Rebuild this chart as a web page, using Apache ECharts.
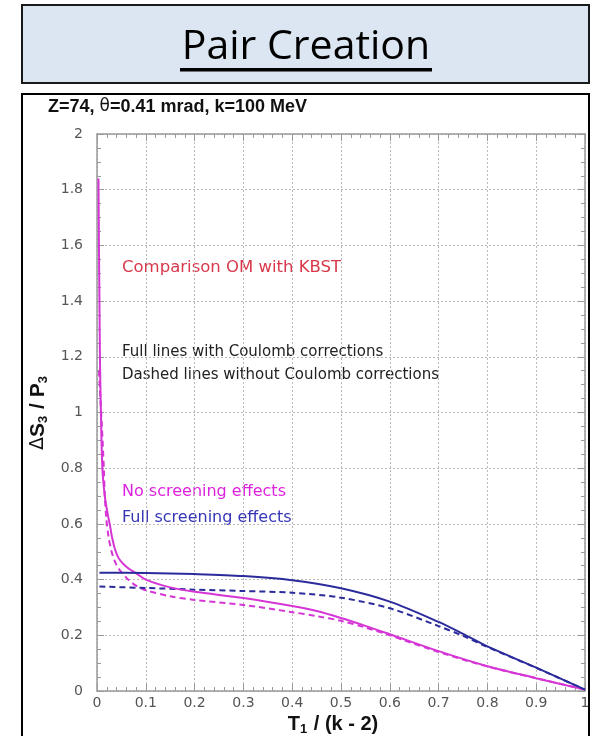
<!DOCTYPE html>
<html>
<head>
<meta charset="utf-8">
<script src="https://cdn.jsdelivr.net/npm/echarts@6/dist/echarts.min.js"></script>
<style>
  html, body { margin: 0; padding: 0; background: #fff; }
  #chart { width: 592px; height: 736px; }
</style>
</head>
<body>
<div id="chart"></div>
<script>
// Axis ranges and tick labels
const xTicks = ['0', '0.1', '0.2', '0.3', '0.4', '0.5', '0.6', '0.7', '0.8', '0.9', '1'];
const yTicks = ['0', '0.2', '0.4', '0.6', '0.8', '1', '1.2', '1.4', '1.6', '1.8', '2'];

// No screening, with Coulomb corrections (solid magenta)
const noScreenCoulomb = [
  [0.003, 1.84], [0.004, 1.6], [0.005, 1.4], [0.006, 1.2], [0.008, 1.0],
  [0.011, 0.80], [0.016, 0.70], [0.022, 0.635], [0.027, 0.59], [0.031, 0.55],
  [0.037, 0.508], [0.044, 0.478], [0.053, 0.458], [0.066, 0.438], [0.08, 0.423],
  [0.1, 0.40], [0.15, 0.372], [0.2, 0.356], [0.3, 0.334], [0.4, 0.305],
  [0.45, 0.287], [0.5, 0.262], [0.55, 0.234], [0.6, 0.204], [0.7, 0.143],
  [0.8, 0.089], [0.9, 0.046], [1.0, 0.005]
];
// No screening, without Coulomb corrections (dashed magenta)
const noScreenPlain = [
  [0.004, 1.15], [0.007, 1.05], [0.010, 0.95], [0.014, 0.80], [0.016, 0.70],
  [0.019, 0.62], [0.024, 0.55], [0.03, 0.50], [0.037, 0.464], [0.044, 0.44],
  [0.064, 0.40], [0.08, 0.378], [0.1, 0.362], [0.15, 0.34], [0.2, 0.327],
  [0.3, 0.309], [0.4, 0.283], [0.45, 0.269], [0.5, 0.252], [0.55, 0.228],
  [0.6, 0.2], [0.7, 0.14], [0.8, 0.088], [0.9, 0.046], [1.0, 0.005]
];
// Full screening, with Coulomb corrections (solid blue)
const fullScreenCoulomb = [
  [0.005, 0.425], [0.1, 0.424], [0.2, 0.42], [0.3, 0.413], [0.4, 0.398],
  [0.5, 0.369], [0.6, 0.321], [0.7, 0.248], [0.75, 0.205], [0.8, 0.16],
  [0.9, 0.084], [1.0, 0.005]
];
// Full screening, without Coulomb corrections (dashed blue)
const fullScreenPlain = [
  [0.005, 0.375], [0.1, 0.37], [0.2, 0.364], [0.3, 0.359], [0.4, 0.353],
  [0.5, 0.335], [0.6, 0.297], [0.7, 0.233], [0.75, 0.198], [0.8, 0.158],
  [0.9, 0.083], [1.0, 0.005]
];

const MAGENTA = '#d535d5';
const BLUE = '#2b2b9c';
const AXIS_GRAY = '#9a9a9a';
const GRID_GRAY = '#b8b8b8';

const chart = echarts.init(document.getElementById('chart'), null, { renderer: 'canvas' });

function baseAxis(extra) {
  return Object.assign({
    type: 'value',
    axisLine: { show: true, onZero: false, lineStyle: { color: AXIS_GRAY, width: 1.5 } },
    axisTick: { show: true, inside: true, length: 7, lineStyle: { color: AXIS_GRAY, width: 1 } },
    minorTick: { show: true, length: 4, lineStyle: { color: AXIS_GRAY, width: 1 } },
    splitLine: { show: false },
    axisLabel: { show: false }
  }, extra);
}

const lineSeries = (name, data, color, dashed) => ({
  name: name,
  type: 'line',
  data: data,
  smooth: 0.3,
  symbol: 'none',
  xAxisIndex: 0,
  yAxisIndex: 0,
  lineStyle: { color: color, width: 2, type: dashed ? [6, 4] : 'solid' },
  z: dashed ? 3 : 4
});

const option = {
  animation: false,
  backgroundColor: '#ffffff',
  grid: {
    left: 97, top: 134, width: 488, height: 557,
    containLabel: false, outerBoundsMode: 'none'
  },
  xAxis: [
    baseAxis({
      min: 0, max: 1, interval: 0.1, position: 'bottom',
      minorTick: { show: true, splitNumber: 5, length: 4, lineStyle: { color: AXIS_GRAY, width: 1 } },
      splitLine: { show: true, lineStyle: { color: GRID_GRAY, type: [2, 2], width: 1 } },
      axisLabel: {
        show: true, color: '#555', fontSize: 14, fontFamily: 'DejaVu Sans', margin: 5,
        formatter: (v) => xTicks[Math.round(v * 10)]
      },
      name: '{b|T}{s|1}{b| / (k - 2)}',
      nameLocation: 'middle',
      nameGap: 18,
      nameTextStyle: {
        padding: [0, 16, 0, 0],
        rich: {
          b: { fontSize: 20, fontWeight: 'bold', color: '#111', fontFamily: 'Liberation Sans' },
          s: { fontSize: 13, fontWeight: 'bold', color: '#111', fontFamily: 'Liberation Sans', padding: [10, 1, 0, 0] }
        }
      }
    }),
    baseAxis({
      min: 0, max: 1, interval: 0.1, position: 'top',
      minorTick: { show: true, splitNumber: 5, length: 4, lineStyle: { color: AXIS_GRAY, width: 1 } }
    })
  ],
  yAxis: [
    baseAxis({
      min: 0, max: 2, interval: 0.2, position: 'left',
      minorTick: { show: true, splitNumber: 4, length: 4, lineStyle: { color: AXIS_GRAY, width: 1 } },
      splitLine: { show: true, lineStyle: { color: GRID_GRAY, type: [2, 2], width: 1 } },
      axisLabel: {
        show: true, color: '#555', fontSize: 14, fontFamily: 'DejaVu Sans', margin: 14,
        formatter: (v) => yTicks[Math.round(v * 5)]
      },
      name: '{d|Δ}{b|S}{s|3}{b| / P}{s|3}',
      nameLocation: 'middle',
      nameRotate: 90,
      nameGap: 41,
      nameTextStyle: {
        rich: {
          d: { fontSize: 19, color: '#111', fontFamily: 'DejaVu Sans' },
          b: { fontSize: 21, fontWeight: 'bold', color: '#111', fontFamily: 'Liberation Sans' },
          s: { fontSize: 13, fontWeight: 'bold', color: '#111', fontFamily: 'Liberation Sans', padding: [10, 1, 0, 0] }
        }
      }
    }),
    baseAxis({
      min: 0, max: 2, interval: 0.2, position: 'right',
      minorTick: { show: true, splitNumber: 4, length: 4, lineStyle: { color: AXIS_GRAY, width: 1 } }
    })
  ],
  series: [
    lineSeries('No screening, Coulomb', noScreenCoulomb, MAGENTA, false),
    lineSeries('No screening, no Coulomb', noScreenPlain, MAGENTA, true),
    lineSeries('Full screening, Coulomb', fullScreenCoulomb, BLUE, false),
    lineSeries('Full screening, no Coulomb', fullScreenPlain, BLUE, true)
  ],
  graphic: [
    // Heading banner
    {
      type: 'rect', z: 0,
      shape: { x: 22, y: 5, width: 567, height: 78 },
      style: { fill: '#dce6f2', stroke: '#1a1a1a', lineWidth: 2 }
    },
    {
      type: 'text', z: 1,
      x: 306, y: 47,
      style: {
        text: 'Pair Creation', fill: '#000', font: '41px "Open Sans"',
        align: 'center', verticalAlign: 'middle'
      }
    },
    {
      type: 'rect', z: 1,
      shape: { x: 180, y: 68, width: 252, height: 3.5 },
      style: { fill: '#000' }
    },
    // Frame around the plot
    {
      type: 'rect', z: 0,
      shape: { x: 22, y: 94, width: 567, height: 660 },
      style: { fill: 'none', stroke: '#000', lineWidth: 2 }
    },
    {
      type: 'text', x: 48, y: 107,
      style: {
        text: '{b|Z=74, }{t|θ}{b|=0.41 mrad, k=100 MeV}',
        verticalAlign: 'middle',
        rich: {
          b: { fontSize: 18, fontWeight: 'bold', fill: '#111', fontFamily: 'Liberation Sans' },
          t: { fontSize: 17, fill: '#111', fontFamily: 'DejaVu Sans' }
        }
      }
    },
    // Annotations
    {
      type: 'text', x: 122, y: 268,
      style: { text: 'Comparison OM with KBST', fill: '#d8384a', font: '16.5px "DejaVu Sans"', verticalAlign: 'middle' }
    },
    {
      type: 'text', x: 122, y: 352,
      style: { text: 'Full lines with Coulomb corrections', fill: '#222', font: '15px "DejaVu Sans"', verticalAlign: 'middle' }
    },
    {
      type: 'text', x: 122, y: 375,
      style: { text: 'Dashed lines without Coulomb corrections', fill: '#222', font: '15px "DejaVu Sans"', verticalAlign: 'middle' }
    },
    {
      type: 'text', x: 122, y: 492,
      style: { text: 'No screening effects', fill: '#dd22dd', font: '16px "DejaVu Sans"', verticalAlign: 'middle' }
    },
    {
      type: 'text', x: 122, y: 518,
      style: { text: 'Full screening effects', fill: '#3535b5', font: '16px "DejaVu Sans"', verticalAlign: 'middle' }
    }
  ]
};

chart.setOption(option);
</script>
</body>
</html>
